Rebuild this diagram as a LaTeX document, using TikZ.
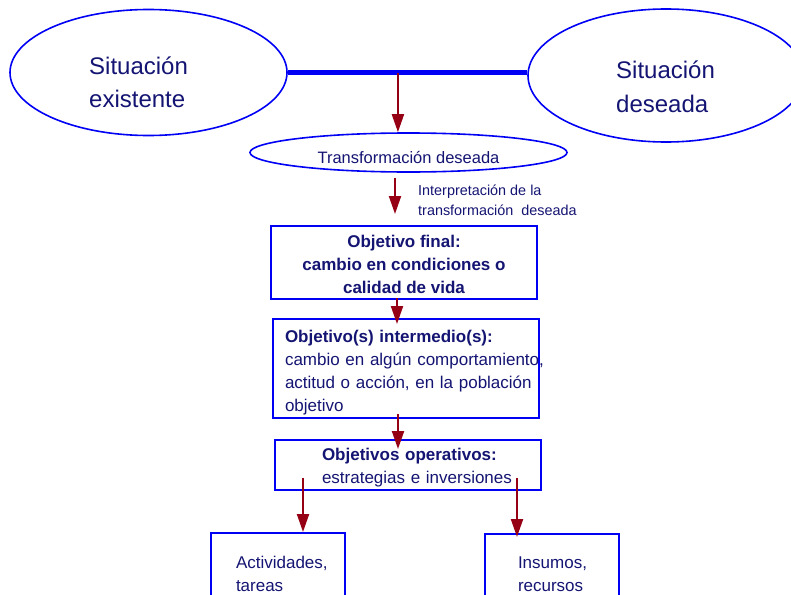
\documentclass[tikz,border=0pt]{standalone}
\usepackage{fontspec}
\setmainfont{Liberation Sans}
\usepackage{tikz}
\usetikzlibrary{arrows.meta,shapes,positioning}
\definecolor{boxblue}{RGB}{0,0,245}
\definecolor{txtnavy}{RGB}{20,20,115}
\definecolor{arrred}{RGB}{150,0,20}

\begin{document}
\begin{tikzpicture}[x=1pt,y=-1pt]
    \tikzstyle{every node}+=[inner sep=0pt, text=txtnavy]
    \tikzstyle{situ}=[draw=boxblue, line width=1.6pt, ellipse]
    \tikzstyle{goal}=[draw=boxblue, line width=2pt, rectangle, align=left, minimum width=266pt, font=\fontsize{17}{23}\selectfont]
    \tikzstyle{arr}=[draw=arrred, line width=2pt, -{Triangle[length=18pt,width=12pt]}]
    \useasboundingbox (0,0) rectangle (791,594);
    \clip (0,0) rectangle (791,594);
    \node [situ, minimum width=277pt, minimum height=126pt] (exist) at (148.5,72.5) {};
    \node [font=\fontsize{24}{33}\selectfont, align=left, anchor=base west] (existtxt) at (89,107) {Situación\\existente};
    \node [situ, minimum width=276pt, minimum height=133pt] (desired) at (666,75.5) {};
    \node [font=\fontsize{24}{34}\selectfont, align=left, anchor=base west] (desiredtxt) at (616,112) {Situación\\deseada};
    \draw [boxblue, line width=4.5pt] (exist.east) -- coordinate[pos=0.46] (split) (exist.east -| desired.west);
    \node [situ, minimum width=317pt, minimum height=39pt, text height=21pt, text depth=0pt, font=\fontsize{16.5}{20}\selectfont] (transf) at (408.5,152.5) {Transformación deseada};
    \node [font=\fontsize{14.4}{20}\selectfont, align=left, anchor=base west] (interp) at (418,215) {Interpretación de la\\transformación\ \ deseada};
    \node [goal, align=center, minimum height=73pt, text height=61pt, text depth=0pt, font=\bfseries\fontsize{17}{23}\selectfont] (final) at (404,262.5) {Objetivo final:\\cambio en condiciones o\\calidad de vida};
    \node [goal, minimum height=99pt, text height=0pt, text depth=53pt, text width=242pt, inner xsep=12pt] (inter) at (406,368.5) {\textbf{Objetivo(s)\ intermedio(s):}\\ \mbox{cambio en algún comportamiento,}\\ \mbox{actitud o acción, en la población}\\ objetivo};
    \node [goal, minimum height=50pt, text height=0pt, text depth=10pt, text width=172pt, inner xsep=47pt] (oper) at (408,465) {\mbox{\textbf{Objetivos operativos:}}\\ \mbox{estrategias e inversiones}};
    \node [goal, minimum width=134pt, minimum height=82pt, text height=0pt, text depth=12pt, text width=84pt, inner xsep=25pt] (acts) at (278,574) {\mbox{Actividades,}\\ tareas};
    \node [goal, minimum width=134pt, minimum height=80pt, text height=0pt, text depth=12pt, text width=68pt, inner xsep=33pt] (inputs) at (552,574) {\mbox{Insumos,}\\ recursos};
    \draw [arr] (split) -- (split |- transf.north);
    \draw [arr] ([xshift=-13.5pt,yshift=-5pt]transf.south) -- ([xshift=-9pt,yshift=11pt]final.north);
    \draw [arr] ([xshift=-7pt,yshift=2pt]final.south) -- ([xshift=-9pt,yshift=-6pt]inter.north);
    \draw [arr] ([xshift=-8pt,yshift=5pt]inter.south) -- ([xshift=-10pt,yshift=-10pt]oper.north);
    \draw [arr] ([xshift=-105pt,yshift=13pt]oper.south) -- ([xshift=25pt]acts.north);
    \draw [arr] ([xshift=109pt,yshift=13pt]oper.south) -- ([xshift=-35pt,yshift=-4pt]inputs.north);
\end{tikzpicture}
\end{document}
